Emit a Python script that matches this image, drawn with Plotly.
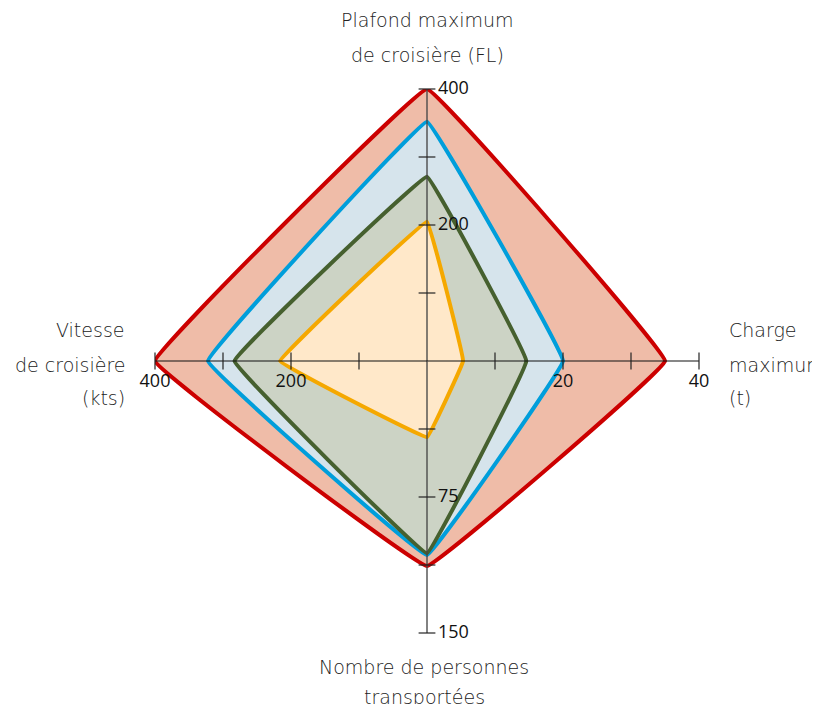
import plotly.graph_objects as go

# ---- data ----
axis_titles = [
    ["Plafond maximum", "de croisière (FL)"],
    ["Charge", "maximum", "(t)"],
    ["Nombre de personnes", "transportées"],
    ["Vitesse", "de croisière", "(kts)"],
]
axis_max = [400, 40, 150, 400]
axis_angles = [0, 90, 180, 270]
tick_fracs = [0.25, 0.5, 0.75, 1.0]
tick_labels = [["200", "400"], ["20", "40"], ["75", "150"], ["200", "400"]]
tick_label_values = [[200, 400], [20, 40], [75, 150], [200, 400]]

series_red = [400, 35, 113, 400]
series_blue = [352, 20, 107, 322]
series_green = [271, 14.6, 106, 283]
series_orange = [205, 5.3, 42, 216]

series = [
    (series_red, "#CC0000", "#EFBCA8"),
    (series_blue, "#009EDB", "#D6E4EC"),
    (series_green, "#46602F", "#CCD3C5"),
    (series_orange, "#F5A800", "#FFE8C9"),
]

fig = go.Figure()

for vals, lc, fc in series:
    r = [v / m for v, m in zip(vals, axis_max)]
    fig.add_trace(go.Scatterpolar(
        r=r + [r[0]], theta=axis_angles + [axis_angles[0]],
        mode="lines", fill="toself", fillcolor=fc,
        line=dict(color=lc, width=4, shape="spline", smoothing=0.12),
        cliponaxis=False, hoverinfo="skip", showlegend=False,
    ))

# axis lines
for ang in axis_angles:
    vertical = ang in (0, 180)
    fig.add_trace(go.Scatterpolar(
        r=[0, 1], theta=[ang, ang], mode="lines",
        line=dict(color="rgba(70,70,70,0.85)" if vertical else "#111111",
                  width=1.6 if vertical else 1.1),
        cliponaxis=False, hoverinfo="skip", showlegend=False,
    ))
    fig.add_trace(go.Scatterpolar(
        r=tick_fracs, theta=[ang] * len(tick_fracs), mode="markers",
        marker=dict(symbol="line-ew" if vertical else "line-ns", size=12,
                    line=dict(color="#222222", width=1.2)),
        cliponaxis=False, hoverinfo="skip", showlegend=False,
    ))

# tick labels
for i, ang in enumerate(axis_angles):
    vertical = ang in (0, 180)
    fig.add_trace(go.Scatterpolar(
        r=[v / axis_max[i] for v in tick_label_values[i]],
        theta=[ang] * 2,
        mode="markers+text",
        marker=dict(size=16 if vertical else 18, color="rgba(0,0,0,0)"),
        text=tick_labels[i],
        textposition="middle right" if vertical else "bottom center",
        textfont=dict(family="Open Sans", size=18, color="#111111"),
        cliponaxis=False, hoverinfo="skip", showlegend=False,
    ))

# page body has an 8px margin: lay out in screen pixels, shift into figure pixels
OFF = 8
W, H = 820 - OFF, 704 - OFF
title_font = dict(family="DejaVu Sans", size=19, color="#222222", weight=200)
title_layout = [
    (427, [20, 55], "center"),
    (727, [330, 365, 398], "left"),
    (424, [667, 697], "center"),
    (127, [330, 365, 398], "right"),
]
annotations = []
for lines, (px, ys, anchor) in zip(axis_titles, title_layout):
    for line, py in zip(lines, ys):
        annotations.append(dict(
            text=line, x=(px - OFF) / W, y=1 - (py - OFF) / H,
            xref="paper", yref="paper",
            xanchor=anchor, yanchor="middle", showarrow=False, font=title_font,
        ))

cx, cy, R = 427 - OFF, 361 - OFF, 272
fig.update_layout(
    width=W, height=H, margin=dict(l=0, r=0, t=0, b=0),
    paper_bgcolor="white", plot_bgcolor="white",
    polar=dict(
        domain=dict(x=[(cx - R) / W, (cx + R) / W],
                    y=[1 - (cy + R) / H, 1 - (cy - R) / H]),
        bgcolor="rgba(0,0,0,0)",
        radialaxis=dict(visible=False, range=[0, 1]),
        angularaxis=dict(visible=False, rotation=90, direction="clockwise"),
    ),
    annotations=annotations,
    showlegend=False,
)

fig.write_html("out.html")
